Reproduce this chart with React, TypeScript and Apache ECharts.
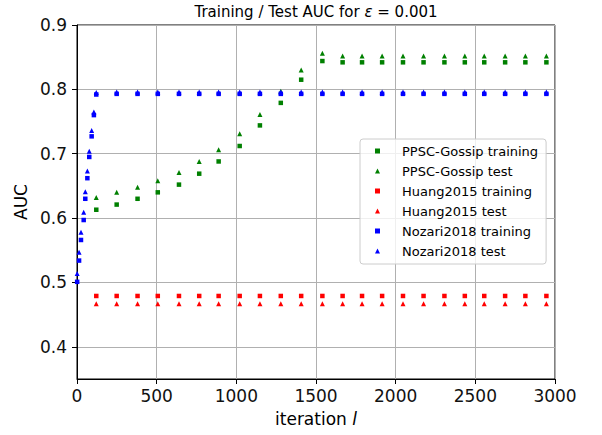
import React, { useEffect, useRef } from "react";
import * as echarts from "echarts";

// Evaluation iterations shared by PPSC-Gossip and Huang2015
const evalIters = [121, 249, 380, 507, 640, 767, 889, 1021, 1148, 1279, 1407, 1540, 1667, 1789, 1915, 2046, 2175, 2306, 2434, 2556, 2687, 2814, 2946];

const ppscTrain = [0.613, 0.621, 0.630, 0.640, 0.652, 0.669, 0.688, 0.712, 0.744, 0.779, 0.815, 0.844, 0.842, 0.842, 0.842, 0.842, 0.842, 0.842, 0.842, 0.842, 0.842, 0.842, 0.842];
const ppscTest = [0.632, 0.640, 0.648, 0.658, 0.671, 0.688, 0.706, 0.731, 0.761, 0.797, 0.830, 0.856, 0.852, 0.852, 0.852, 0.852, 0.852, 0.852, 0.852, 0.852, 0.852, 0.852, 0.852];

const huangTrain = [0.479, 0.479, 0.479, 0.479, 0.479, 0.479, 0.479, 0.479, 0.479, 0.479, 0.479, 0.479, 0.479, 0.479, 0.479, 0.479, 0.479, 0.479, 0.479, 0.479, 0.479, 0.479, 0.479];
const huangTest = [0.467, 0.467, 0.467, 0.467, 0.467, 0.467, 0.467, 0.467, 0.467, 0.467, 0.467, 0.467, 0.467, 0.467, 0.467, 0.467, 0.467, 0.467, 0.467, 0.467, 0.467, 0.467, 0.467];

const nozariIters = [1, 13, 25, 42, 52, 65, 77, 92, 106, 121, 249, 380, 507, 640, 767, 889, 1021, 1148, 1279, 1407, 1540, 1667, 1789, 1915, 2046, 2175, 2306, 2434, 2556, 2687, 2814, 2946];
const nozariTrain = [0.501, 0.534, 0.566, 0.597, 0.630, 0.662, 0.695, 0.727, 0.760, 0.792, 0.793, 0.793, 0.793, 0.793, 0.793, 0.793, 0.793, 0.793, 0.793, 0.793, 0.793, 0.793, 0.793, 0.793, 0.793, 0.793, 0.793, 0.793, 0.793, 0.793, 0.793, 0.793];
const nozariTest = [0.514, 0.547, 0.578, 0.609, 0.641, 0.673, 0.704, 0.736, 0.765, 0.795, 0.796, 0.796, 0.796, 0.796, 0.796, 0.796, 0.796, 0.796, 0.796, 0.796, 0.796, 0.796, 0.796, 0.796, 0.796, 0.796, 0.796, 0.796, 0.796, 0.796, 0.796, 0.796];

const yTicks = [0.4, 0.5, 0.6, 0.7, 0.8, 0.9];

const FONT = "DejaVu Sans";

function pairs(xs: number[], ys: number[]) {
  return xs.map((x, i) => [x, ys[i]]);
}

export default function App() {
  const ref = useRef<HTMLDivElement>(null);
  useEffect(() => {
    if (!ref.current) return;
    const chart = echarts.init(ref.current, null, { renderer: "svg" });
    const mk = (name: string, xs: number[], ys: number[], color: string, symbol: string, size: number) => ({
      name,
      type: "scatter",
      data: pairs(xs, ys),
      symbol,
      symbolSize: size,
      itemStyle: { color, opacity: 1 },
      emphasis: { disabled: true },
    });
    chart.setOption({
      animation: false,
      backgroundColor: "#ffffff",
      textStyle: { fontFamily: FONT },
      graphic: [
        {
          type: "text",
          x: 316,
          y: 12,
          style: {
            text: "{n|Training / Test AUC for }{i|ε}{n| = 0.001}",
            fontFamily: FONT,
            fontSize: 15,
            fill: "#000",
            align: "center",
            verticalAlign: "middle",
            rich: {
              n: { fontFamily: FONT, fontSize: 15, fill: "#000", color: "#000" },
              i: { fontFamily: FONT, fontSize: 15, fontStyle: "italic", fill: "#000", color: "#000" },
            },
          },
        },
      ],
      grid: {
        left: 77,
        top: 25,
        width: 478,
        height: 354,
        show: true,
        borderColor: "#000",
        borderWidth: 1,
        outerBoundsMode: "none",
      },
      legend: {
        orient: "vertical",
        left: 360,
        top: 139,
        padding: [5, 8, 6, 15],
        itemWidth: 5,
        itemHeight: 5,
        itemGap: 6,
        backgroundColor: "rgba(255,255,255,0.8)",
        borderColor: "#cccccc",
        borderWidth: 1,
        borderRadius: 3,
        textStyle: { fontFamily: FONT, fontSize: 13, color: "#000", lineHeight: 14, padding: [0, 0, 0, 17] },
        data: [
          { name: "PPSC-Gossip training", icon: "rect" },
          { name: "PPSC-Gossip test", icon: "triangle" },
          { name: "Huang2015 training", icon: "rect" },
          { name: "Huang2015 test", icon: "triangle" },
          { name: "Nozari2018 training", icon: "rect" },
          { name: "Nozari2018 test", icon: "triangle" },
        ],
        selectedMode: false,
      },
      xAxis: {
        type: "value",
        min: 0,
        max: 3000,
        interval: 500,
        name: "{a|iteration }{b|l}",
        nameLocation: "middle",
        nameGap: 31,
        nameTextStyle: {
          fontFamily: FONT,
          fontSize: 17,
          color: "#000",
          rich: {
            a: { fontFamily: FONT, fontSize: 17, color: "#000" },
            b: { fontFamily: FONT, fontSize: 17, color: "#000", fontStyle: "italic" },
          },
        },
        axisLine: { show: true, lineStyle: { color: "#000", width: 1 } },
        axisTick: { show: true, inside: false, length: 5, lineStyle: { color: "#000" } },
        axisLabel: {
          fontFamily: FONT,
          fontSize: 17,
          color: "#111",
          margin: 8,
          formatter: (v: number) => String(v),
        },
        splitLine: { show: true, lineStyle: { color: "#b0b0b0", width: 1 } },
      },
      yAxis: {
        type: "value",
        min: 0.35,
        max: 0.9,
        splitNumber: 5,
        name: "AUC",
        nameLocation: "middle",
        nameGap: 46,
        nameTextStyle: { fontFamily: FONT, fontSize: 17, color: "#000" },
        axisLine: { show: true, lineStyle: { color: "#000", width: 1 } },
        axisTick: { show: true, inside: false, length: 5, lineStyle: { color: "#000" }, customValues: yTicks },
        axisLabel: {
          fontFamily: FONT,
          fontSize: 17,
          color: "#111",
          margin: 10,
          customValues: yTicks,
          formatter: (v: number) => v.toFixed(1),
        },
        splitLine: { show: true, lineStyle: { color: "#b0b0b0", width: 1 } },
      },
      series: [
        mk("PPSC-Gossip training", evalIters, ppscTrain, "#008000", "rect", 4.5),
        mk("PPSC-Gossip test", evalIters, ppscTest, "#008000", "triangle", 5),
        mk("Huang2015 training", evalIters, huangTrain, "#ff0000", "rect", 4.5),
        mk("Huang2015 test", evalIters, huangTest, "#ff0000", "triangle", 5),
        mk("Nozari2018 training", nozariIters, nozariTrain, "#0000ff", "rect", 4.5),
        mk("Nozari2018 test", nozariIters, nozariTest, "#0000ff", "triangle", 5),
      ],
    });
    return () => chart.dispose();
  }, []);
  return <div ref={ref} style={{ position: "absolute", left: 0, top: 0, width: 602, height: 435 }} />;
}
